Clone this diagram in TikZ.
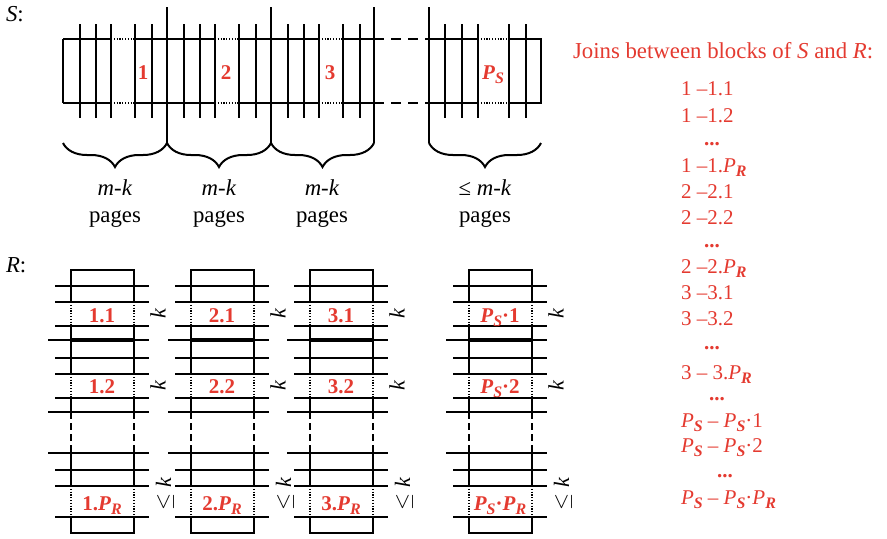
\documentclass[tikz,border=0pt]{standalone}
\usepackage{fontspec}
\setmainfont{Liberation Serif}
\usetikzlibrary{decorations.pathreplacing}

\definecolor{joinred}{RGB}{228,58,48}
\newcommand{\bsub}[1]{\raisebox{-0.5ex}{\fontsize{8}{9}\selectfont\textbf{\textit{#1}}}}
\newcommand{\PS}{\textit{P}\bsub{S}}
\newcommand{\PR}{\textit{P}\bsub{R}}

\tikzset{
  txt/.style={font=\fontsize{11.4}{13}\selectfont, anchor=base, inner sep=0pt},
  blk/.style={text=joinred, font=\fontsize{10.5}{12}\selectfont\bfseries, anchor=base, inner sep=0pt},
  joinitem/.style={text=joinred, font=\fontsize{10.5}{12}\selectfont, anchor=base west, inner sep=0pt},
  joindots/.style={text=joinred, font=\fontsize{10.5}{12}\selectfont\bfseries, anchor=base, inner sep=0pt},
  klbl/.style={font=\fontsize{11}{12}\selectfont, rotate=90, inner sep=0pt},
  dots/.style={line width=0.6pt, dash pattern=on 0.6pt off 0.8pt},
  brc/.style={decorate, decoration={brace, mirror, amplitude=12pt}}
}

\begin{document}
\begin{tikzpicture}[x=0.5pt, y=-0.5pt, line width=1pt]
\useasboundingbox (0,0) rectangle (887,538);

% The relation S, cut into blocks of pages
\node[txt, anchor=base west] (slbl) at (5,21) {\textit{S}:};
\foreach \a in {63,167,271}{
  \foreach \d in {17,33,48,72,89}
    \draw (\a+\d,24) -- (\a+\d,118);
  \draw (\a,39) -- (\a+48,39) (\a+72,39) -- (\a+104,39);
  \draw (\a,103) -- (\a+48,103) (\a+72,103) -- (\a+104,103);
  \draw[dots] (\a+48,39) -- (\a+72,39) (\a+48,103) -- (\a+72,103);
}
\foreach \d in {445,462,478,509,526}
  \draw (\d,24) -- (\d,118);
\draw (429,39) -- (478,39) (509,39) -- (541,39) -- (541,103) -- (509,103) (478,103) -- (429,103);
\draw[dots] (478,39) -- (509,39) (478,103) -- (509,103);
\draw[dash pattern=on 5pt off 3.5pt] (374,39) -- (429,39) (374,103) -- (429,103);
\draw (63,39) -- (63,103);
\foreach \a in {167,271,374,429}
  \draw (\a,7) -- (\a,143);

\node[blk] (s1) at (143,79) {1};
\node[blk] (s2) at (226,79) {2};
\node[blk] (s3) at (330,79) {3};
\node[blk] (sp) at (493,79) {\PS};

% Braces under the blocks
\draw[brc] (63,143) -- (167,143);
\draw[brc] (167,143) -- (271,143);
\draw[brc] (271,143) -- (374,143);
\draw[brc] (429,143) -- (541,143);
\foreach \x/\t [count=\i] in {115/,219/,322/,485/≤ }{
  \node[txt] (mk\i) at (\x,195) {\t\textit{m}-\textit{k}};
  \node[txt] (pg\i) at (\x,222) {pages};
}

% The relation R, one column of blocks per block of S
\node[txt, anchor=base west] (rlbl) at (5,272) {\textit{R}:};
\foreach \L/\n/\s [count=\i] in {71/1/., 191/2/., 310/3/., 469/\PS/·}{
  \draw (\L,302) -- (\L,270) -- (\L+63,270) -- (\L+63,302);
  \draw (\L,326) -- (\L,374) (\L+63,326) -- (\L+63,374);
  \draw (\L,398) -- (\L,412) (\L+63,398) -- (\L+63,412);
  \draw (\L,453) -- (\L,486) (\L+63,453) -- (\L+63,486);
  \draw (\L,517) -- (\L,533) -- (\L+63,533) -- (\L+63,517);
  \draw[dots] (\L,302) -- (\L,326) (\L+63,302) -- (\L+63,326);
  \draw[dots] (\L,374) -- (\L,398) (\L+63,374) -- (\L+63,398);
  \draw[dots] (\L,486) -- (\L,517) (\L+63,486) -- (\L+63,517);
  \draw[dash pattern=on 3.5pt off 2pt] (\L,412) -- (\L,453) (\L+63,412) -- (\L+63,453);
  \foreach \y in {286,302,326,358,374,398,470,486,517}
    \draw (\L-16,\y) -- (\L+78,\y);
  \foreach \y in {340,412,453}
    \draw (\L-23,\y) -- (\L+78,\y);
  \draw[line width=2.2pt] (\L,340) -- (\L+63,340);
  \node[blk] (c\i a) at (\L+31,322) {\n\s1};
  \node[blk] (c\i b) at (\L+31,393) {\n\s2};
  \node[blk] (c\i z) at (\L+31,510) {\n\s\PR};
  \node[klbl] (k\i a) at (\L+87,313) {\textit{k}};
  \node[klbl] (k\i b) at (\L+87,385) {\textit{k}};
  \node[klbl] (k\i z) at (\L+94,494) {$\leq$ \textit{k}};
}

% Joins between the blocks
\node[txt, text=joinred, anchor=base west] (head) at (572,58) {Joins between blocks of \textit{S} and \textit{R}:};
\node[joinitem] (j1) at (680,95) {1 –1.1};
\node[joinitem] (j2) at (680,122) {1 –1.2};
\node[joindots] (d1) at (712,145) {...};
\node[joinitem] (j3) at (680,172) {1 –1.\PR};
\node[joinitem] (j4) at (680,198) {2 –2.1};
\node[joinitem] (j5) at (680,224) {2 –2.2};
\node[joindots] (d2) at (712,247) {...};
\node[joinitem] (j6) at (680,273) {2 –2.\PR};
\node[joinitem] (j7) at (680,299) {3 –3.1};
\node[joinitem] (j8) at (680,325) {3 –3.2};
\node[joindots] (d3) at (712,349) {...};
\node[joinitem] (j9) at (680,379) {3 – 3.\PR};
\node[joindots] (d4) at (717,400) {...};
\node[joinitem] (j10) at (680,427) {\PS{} – \PS·1};
\node[joinitem] (j11) at (680,452) {\PS{} – \PS·2};
\node[joindots] (d5) at (725,477) {...};
\node[joinitem] (j12) at (680,504) {\PS{} – \PS·\PR};

\end{tikzpicture}
\end{document}
